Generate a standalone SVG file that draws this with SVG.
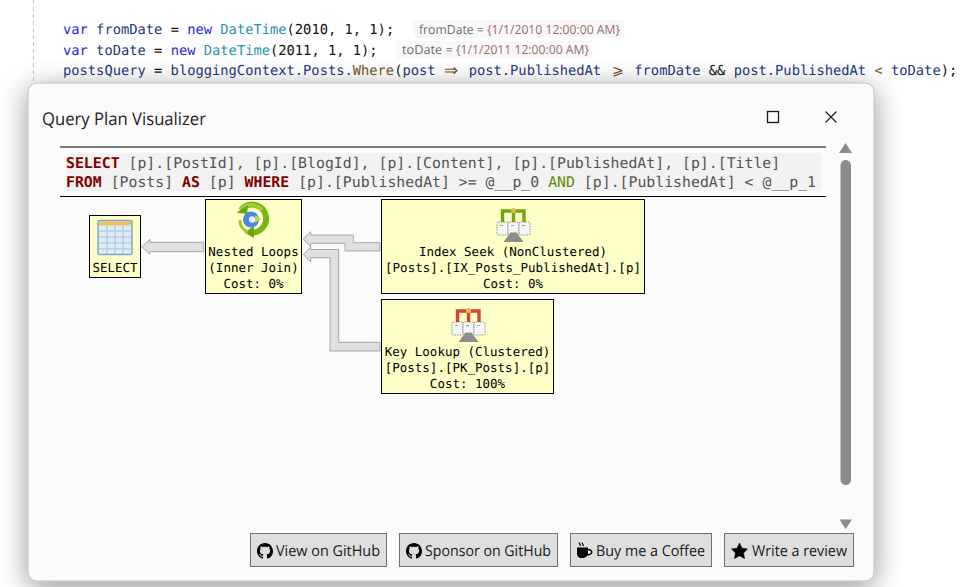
<svg xmlns="http://www.w3.org/2000/svg" xmlns:xlink="http://www.w3.org/1999/xlink" width="960" height="587" viewBox="0 0 960 587">
<style>
text{white-space:pre;text-rendering:geometricPrecision}
.code{font:13.75px "DejaVu Sans Mono",monospace;fill:#1f377f}
.kw{fill:#1f1fe0}.ty{fill:#2b91af}.op{fill:#111}.me{fill:#74531f}
.hint{font:12.5px "Open Sans",sans-serif;fill:#6e6e6e}.val{fill:#a56a6a}
.sql{font:14.83px "DejaVu Sans Mono",monospace;fill:#555}
.k{fill:#800000;font-weight:bold}.g{fill:#5f8a00}
.node{fill:#ffffc8;stroke:#000;stroke-width:1}
.nt{font:12.5px "DejaVu Sans Mono",monospace;fill:#000;text-anchor:middle}
.arrow{fill:#e0e0e0;stroke:#a8a8a8;stroke-width:1}
.btn{fill:#dedede;stroke:#707070;stroke-width:1}
.bt{font:15px "Open Sans",sans-serif;fill:#1a1a1a}
.doc{fill:#f6f6f6;stroke:#777;stroke-width:.8;stroke-dasharray:1.5 1}
</style>
<defs>
<filter id="sh" x="-10%" y="-15%" width="120%" height="130%"><feDropShadow dx="0" dy="6" stdDeviation="14" flood-color="#000" flood-opacity=".42"/></filter>
<g id="seek">
<path d="M6.500 16V4H28V16M17.500 4V16" fill="none" stroke="currentColor" stroke-width="3.400"/>
<circle cx="17.500" cy="3.500" r="2.500" fill="#e8b94a"/>
<rect class="doc" x="1" y="15" width="11" height="13" rx="1.500"/><rect class="doc" x="12" y="15" width="11" height="13" rx="1.500"/><rect class="doc" x="23" y="15" width="11" height="13" rx="1.500"/>
<path d="M4 18.500H7M15 18.500H18M26 18.500H29" stroke="#999" stroke-width=".9"/>
<path d="M14.500 25.500H20.500L27.500 35H7.500Z" fill="#8d8d8d"/>
</g>
<path id="gh" d="M8 0C3.580 0 0 3.580 0 8c0 3.540 2.290 6.530 5.470 7.590.4.070.55-.17.55-.38 0-.19-.01-.82-.01-1.490-2.010.37-2.530-.49-2.690-.94-.09-.23-.48-.94-.82-1.130-.28-.15-.68-.52-.01-.53.63-.01 1.080.58 1.230.82.72 1.210 1.870.87 2.330.66.07-.52.28-.87.51-1.070-1.780-.2-3.640-.89-3.640-3.950 0-.87.31-1.590.82-2.150-.08-.2-.36-1.020.08-2.120 0 0 .67-.21 2.200.82.64-.18 1.320-.27 2-.27s1.360.09 2 .27c1.530-1.040 2.200-.82 2.200-.82.44 1.100.16 1.920.08 2.120.51.56.82 1.270.82 2.150 0 3.070-1.870 3.750-3.650 3.950.29.25.54.73.54 1.480 0 1.070-.01 1.930-.01 2.200 0 .21.15.46.55.38A8.013 8.013 0 0016 8c0-4.420-3.580-8-8-8z"/>
</defs>
<rect width="960" height="587" fill="#fff"/>
<path d="M33.500 0V83" stroke="#c8c8c8" stroke-dasharray="4 3"/>
<g id="editor">
<rect x="413" y="20" width="211" height="18" fill="#f8f8f8"/>
<rect x="396" y="41" width="196" height="18" fill="#f8f8f8"/>
<text class="code" x="63" y="34"><tspan class="kw">var</tspan> fromDate <tspan class="op">=</tspan> <tspan class="kw">new</tspan> <tspan class="ty">DateTime</tspan><tspan class="op">(2010, 1, 1);</tspan></text>
<text class="code" x="63" y="55"><tspan class="kw">var</tspan> toDate <tspan class="op">=</tspan> <tspan class="kw">new</tspan> <tspan class="ty">DateTime</tspan><tspan class="op">(2011, 1, 1);</tspan></text>
<text class="code" x="63" y="75">postsQuery <tspan class="op">=</tspan> bloggingContext.Posts.<tspan class="me">Where</tspan><tspan class="op">(</tspan>post <tspan x="468.700">post.PublishedAt</tspan><tspan x="634.300">fromDate</tspan> <tspan class="op" x="708.800">&amp;&amp;</tspan> <tspan x="733.700">post.PublishedAt</tspan><tspan class="me" x="874.400">&lt;</tspan> <tspan x="891">toDate</tspan><tspan class="op">);</tspan></text>
<text x="444" y="75.500" font-family="DejaVu Sans,sans-serif" font-size="17" fill="#74531f">⇒</text>
<text x="612" y="75" font-family="DejaVu Sans,sans-serif" font-size="14" fill="#74531f">⩾</text>
<text class="hint" x="419" y="34" textLength="68" lengthAdjust="spacingAndGlyphs">fromDate = </text><text class="hint val" x="487" y="34" textLength="133" lengthAdjust="spacingAndGlyphs">{1/1/2010 12:00:00 AM}</text>
<text class="hint" x="402" y="54" textLength="54" lengthAdjust="spacingAndGlyphs">toDate = </text><text class="hint val" x="456" y="54" textLength="133" lengthAdjust="spacingAndGlyphs">{1/1/2011 12:00:00 AM}</text>
</g>
<rect id="window" x="28" y="83" width="846" height="498" rx="9" fill="#fbfbfb" stroke="#bdbdbd" filter="url(#sh)"/>
<text x="42" y="124.500" font-family="Open Sans,sans-serif" font-size="17.500" fill="#222" textLength="164" lengthAdjust="spacingAndGlyphs">Query Plan Visualizer</text>
<rect x="767.500" y="111.500" width="11" height="11" fill="none" stroke="#1a1a1a" stroke-width="1.300"/>
<path d="M825.500 111.500L836.500 122.500M836.500 111.500L825.500 122.500" stroke="#1a1a1a" stroke-width="1.100"/>
<g id="scrollbar" fill="#8c8c8c">
<path d="M845.500 143L852 153H839Z"/>
<rect x="840.500" y="160" width="10.500" height="325" rx="5.200"/>
<path d="M839.500 519.500H852L845.700 529Z"/>
</g>
<g id="sql-text">
<path d="M60 147H826M60 196.500H826" stroke="#000" stroke-width="1.200"/>
<rect x="66" y="153" width="755" height="38" fill="#f2f2f2"/>
<text class="sql" x="66" y="168.300"><tspan class="k">SELECT</tspan> [p].[PostId], [p].[BlogId], [p].[Content], [p].[PublishedAt], [p].[Title]</text>
<text class="sql" x="66" y="187.300"><tspan class="k">FROM</tspan> [Posts] <tspan class="k">AS</tspan> [p] <tspan class="k">WHERE</tspan> [p].[PublishedAt] &gt;= @__p_0 <tspan class="g">AND</tspan> [p].[PublishedAt] &lt; @__p_1</text>
</g>
<g id="connectors">
<path class="arrow" d="M141.700 246.800L150 239.300V242.300H203.700V251.700H150V254.300Z"/>
<path class="arrow" d="M303.300 239L310.700 231.700V235H353.300V242.700H380V251H345V243.300H310.700V246.700Z"/>
<path class="arrow" d="M303.300 254.500L310.700 247V249.500H338.700V342.300H380V351H330V257.700H310.700V262Z"/>
</g>
<g id="node-select">
<rect class="node" x="89.500" y="215.500" width="51" height="62"/>
<rect x="98" y="220.500" width="34" height="34" rx="1.500" fill="#dcecf9" stroke="#7fa6cc" stroke-width="1.500"/>
<rect x="99" y="221.500" width="32" height="4" fill="#f4c05a"/>
<path d="M98 231H132M98 237H132M98 243H132M98 249H132M107 225V254M115 225V254M123 225V254" stroke="#a9bfd6" stroke-width="1" fill="none"/>
<text class="nt" x="115" y="272">SELECT</text>
</g>
<g id="node-nested">
<rect class="node" x="205.500" y="199.500" width="96" height="94"/>
<path d="M241 210A14 14 0 1 1 251 232.500" fill="none" stroke="#7cb518" stroke-width="6"/>
<path d="M241 209A14 14 0 0 1 262 210" fill="none" stroke="#a5d236" stroke-width="3"/>
<path d="M236.500 212.500L248 205L247 214Z M254 226V238L244.500 232.500Z" fill="#6aa312"/>
<path d="M240 220C240 226 243 230 248 232" fill="none" stroke="#9ccc2e" stroke-width="3"/>
<circle cx="251" cy="219.500" r="8" fill="#4d84e8"/>
<circle cx="252" cy="219.500" r="3.200" fill="#e8f0ff"/>
<path d="M255 215L261 219L255 223Z" fill="#b5d93f"/>
<text class="nt" x="253.500" y="256">Nested Loops</text>
<text class="nt" x="253.500" y="272">(Inner Join)</text>
<text class="nt" x="253.500" y="288">Cost: 0%</text>
</g>
<g id="node-index-seek">
<rect class="node" x="381.500" y="199.500" width="263" height="94"/>
<use xlink:href="#seek" href="#seek" x="496" y="207" color="#6fa80e"/>
<text class="nt" x="513" y="256">Index Seek (NonClustered)</text>
<text class="nt" x="513" y="272">[Posts].[IX_Posts_PublishedAt].[p]</text>
<text class="nt" x="513" y="288">Cost: 0%</text>
</g>
<g id="node-key-lookup">
<rect class="node" x="381.500" y="299.500" width="172" height="94"/>
<use xlink:href="#seek" href="#seek" x="451" y="307" color="#d8452f"/>
<text class="nt" x="467.500" y="356">Key Lookup (Clustered)</text>
<text class="nt" x="467.500" y="372">[Posts].[PK_Posts].[p]</text>
<text class="nt" x="467.500" y="388">Cost: 100%</text>
</g>
<g id="btn-view">
<rect class="btn" x="250.500" y="533.500" width="136" height="33"/>
<use xlink:href="#gh" href="#gh" x="257" y="543"/>
<text class="bt" x="276" y="555.500" textLength="104" lengthAdjust="spacingAndGlyphs">View on GitHub</text>
</g>
<g id="btn-sponsor">
<rect class="btn" x="399.500" y="533.500" width="158" height="33"/>
<use xlink:href="#gh" href="#gh" x="406" y="543"/>
<text class="bt" x="425" y="555.500" textLength="126" lengthAdjust="spacingAndGlyphs">Sponsor on GitHub</text>
</g>
<g id="btn-coffee">
<rect class="btn" x="570.500" y="533.500" width="141" height="33"/>
<path d="M577 547.500H588V549C590.500 548.500 592.500 550 592.500 552S590 555.500 587.500 555.500C586.500 557 585 558 583 558H581C578.500 558 577 556 577 554ZM588 550.500V554C590 554 591 553 591 552S590 550.500 588 550.500Z"/>
<path d="M579 542.500L580.500 546M582 542.500L583.500 546" stroke="#000" stroke-width="1.200"/>
<text class="bt" x="596" y="555.500" textLength="109" lengthAdjust="spacingAndGlyphs">Buy me a Coffee</text>
</g>
<g id="btn-review">
<rect class="btn" x="724.500" y="533.500" width="129" height="33"/>
<path d="M739.500 543L742 548.200L747.500 549L743.500 552.900L744.500 558.500L739.500 555.800L734.500 558.500L735.500 552.900L731.500 549L737 548.200Z" stroke="#000" stroke-width=".6"/>
<text class="bt" x="752" y="555.500" textLength="95" lengthAdjust="spacingAndGlyphs">Write a review</text>
</g>
</svg>
